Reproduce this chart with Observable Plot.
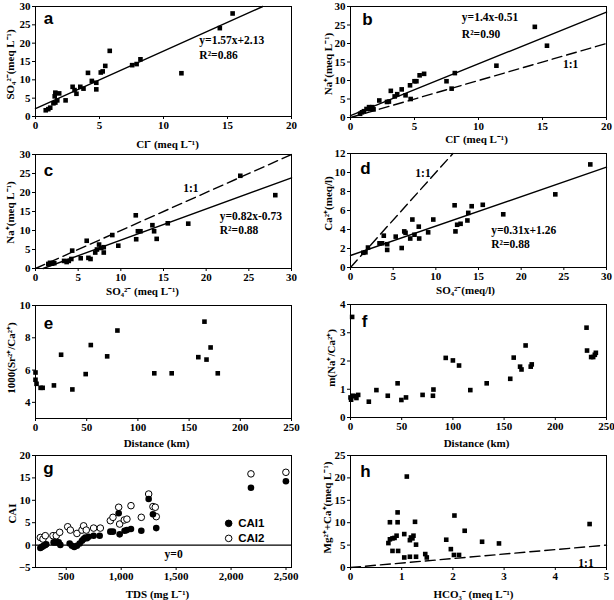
<!DOCTYPE html>
<html><head><meta charset="utf-8">
<script src="https://cdn.jsdelivr.net/npm/d3@7"></script>
<script src="https://cdn.jsdelivr.net/npm/@observablehq/plot@0.6"></script>
<style>
body{margin:0;background:#fff;}
#wrap{position:relative;width:614px;height:600px;overflow:hidden;background:#fff;}
#wrap svg{position:absolute;overflow:visible;}
</style></head><body><div id="wrap"></div>
<script>
// ---------- data ----------
// a: Cl- vs SO4 2-
const panelA = [[0.8,1.7],[1.0,2.0],[1.15,2.4],[1.4,3.6],[1.55,3.8],[1.5,5.5],[1.55,6.5],[1.7,4.4],[1.85,6.3],[2.35,4.4],[2.9,8.1],[3.05,7.2],[3.2,6.2],[3.5,8.1],[3.75,7.6],[4.1,11.9],[4.4,9.7],[4.75,9.2],[4.75,7.4],[5.1,12.0],[5.25,12.3],[5.45,13.8],[5.8,17.9],[7.55,14.0],[7.9,14.3],[8.2,15.6],[11.4,11.8],[14.4,24.1],[15.4,28.1]];
// b: Cl- vs Na+
const panelB = [[0.75,1.0],[0.9,1.4],[1.05,1.7],[1.25,2.3],[1.45,2.8],[1.55,2.3],[1.7,2.8],[1.8,2.2],[2.25,4.6],[2.85,4.2],[3.0,4.3],[3.15,7.2],[3.45,5.7],[3.65,6.3],[4.0,7.6],[4.3,6.0],[4.7,5.0],[4.65,8.7],[5.0,9.8],[5.15,9.8],[5.4,11.4],[5.75,11.8],[7.5,9.8],[7.9,7.8],[8.15,12.0],[11.4,14.0],[14.4,24.5],[15.35,19.4]];
// c: SO4 2- vs Na+
const panelC = [[1.5,1.2],[1.7,1.5],[1.95,1.3],[2.2,1.4],[3.35,2.0],[3.65,1.7],[3.9,2.0],[4.2,2.5],[4.3,4.7],[5.3,2.7],[6.0,7.3],[6.2,2.8],[6.45,2.5],[7.0,4.2],[7.2,5.0],[7.45,6.3],[7.7,5.4],[8.0,5.6],[8.0,4.2],[9.0,8.8],[9.7,6.0],[11.75,14.0],[11.8,7.7],[12.0,9.8],[12.3,9.8],[13.7,11.4],[13.9,9.8],[14.2,7.8],[15.5,11.9],[17.9,11.8],[24.0,24.4],[28.1,19.3]];
// d: SO4 2- vs Ca2+
const panelD = [[1.5,1.55],[1.75,1.6],[2.05,2.1],[3.4,2.55],[3.7,2.55],[3.9,3.35],[4.3,2.45],[4.3,1.85],[5.3,3.25],[6.0,2.05],[6.3,3.8],[6.45,3.65],[7.0,3.05],[7.25,5.05],[7.5,3.45],[8.0,4.3],[8.05,3.05],[9.1,3.7],[9.7,5.05],[12.2,6.55],[12.3,3.8],[12.5,4.5],[12.9,4.6],[13.7,4.95],[13.8,5.75],[14.2,6.45],[15.5,6.6],[17.9,5.6],[24.0,7.7],[28.1,10.85]];
// e: distance vs 1000(Sr/Ca)
const panelE = [[0,5.85],[0,5.4],[1,5.15],[5,4.9],[7,4.9],[18,5.05],[25,6.95],[36,4.8],[49,5.75],[54,7.55],[70,6.85],[80,8.45],[116,5.8],[133,5.8],[159,6.8],[165,9.0],[167,6.65],[171,7.4],[178,5.8]];
// f: distance vs m(Na/Ca)
const panelF = [[1.6,3.56],[0,0.71],[0.6,0.63],[2.6,0.77],[4.9,0.75],[5.8,0.69],[7.5,0.8],[17.9,0.56],[25.3,0.97],[36.4,0.77],[46,1.21],[49.7,0.62],[54.2,0.71],[70.4,0.8],[80.5,0.77],[81,0.99],[93,2.11],[100,2.02],[106,1.84],[117,0.97],[133,1.21],[156,1.37],[159.4,2.12],[165.6,1.8],[167,1.7],[171,2.55],[176,1.8],[177,1.88],[230.5,3.18],[231,2.37],[235,2.14],[237,2.14],[238.6,2.22],[239.6,2.29]];
// g: TDS vs CAI1 / CAI2
const gCAI1 = [[264,-0.65],[279,-0.4],[294,-0.15],[309,0],[318,0.2],[385,0.6],[409,0.6],[431,0.6],[446,0.05],[531,0.35],[552,-0.15],[573,-0.4],[597,-0.15],[622,0.35],[643,0.95],[658,1.35],[673,1.7],[688,1.55],[704,1.85],[749,2.1],[804,2.1],[901,3.0],[925,3.0],[977,7.1],[986,2.4],[1031,3.2],[1052,3.35],[1089,3.6],[1183,3.2],[1250,10.3],[1289,6.9],[1319,3.8],[2181,12.8],[2499,14.25]];
const gCAI2 = [[264,1.7],[288,1.35],[309,2.1],[379,2.1],[409,2.1],[440,2.85],[513,4.1],[537,3.35],[597,2.6],[643,3.35],[658,4.3],[682,3.35],[749,3.8],[810,3.8],[901,5.45],[925,6.2],[977,8.45],[986,4.7],[1028,5.6],[1052,5.8],[1089,8.8],[1183,6.2],[1250,11.4],[1289,8.6],[1310,8.45],[1319,6.35],[2181,15.9],[2499,16.25]];
const gLegend = [["CAI1", 4.85, "black"], ["CAI2", 1.5, "white"]];
// h: HCO3- vs Mg2+ + Ca
const panelH = [[0.74,5.45],[0.77,6.3],[0.82,6.5],[0.86,6.6],[0.82,3.7],[0.93,3.7],[0.9,7.1],[0.77,10.1],[0.92,10.1],[0.92,12.3],[1.1,20.3],[1.05,7.46],[1.05,2.24],[1.16,2.4],[1.16,6.1],[1.18,6.7],[1.21,6.5],[1.23,7.1],[1.26,10.2],[1.28,5.1],[1.28,2.4],[1.46,3.0],[1.49,2.24],[1.87,6.2],[1.96,4.1],[2.02,2.8],[2.03,11.6],[2.12,2.8],[2.23,8.2],[2.57,5.75],[2.9,5.37],[4.67,9.7]];

// regression fits / reference lines
const fitA = {slope: 1.57, intercept: 2.13, text: "y=1.57x+2.13", r2: "R²=0.86"};
const fitB = {slope: 1.4, intercept: 0.5, text: "y=1.4x-0.51", r2: "R²=0.90"};
const fitC = {slope: 0.82, intercept: -0.73, text: "y=0.82x-0.73", r2: "R²=0.88"};
const fitD = {slope: 0.31, intercept: 1.26, text: "y=0.31x+1.26", r2: "R²=0.88"};
const oneToOne = {slope: 1, intercept: 0};

// ticks
const ticksCl = [0,5,10,15,20];
const ticks0to30 = [0,5,10,15,20,25,30];
const ticksCa = [0,2,4,6,8,10,12];
const ticksDist = [0,50,100,150,200,250];
const ticksSrCa = [4,6,8,10];
const ticksNaCa = [0,1,2,3,4];
const ticksTDS = [500,1000,1500,2000,2500];
const ticksCAI = [-5,0,5,10,15,20];
const ticksHCO3 = [0,1,2,3,4,5];
const ticksMgCa = [0,5,10,15,20,25];

// ---------- helpers ----------
const SERIF = "'Liberation Serif','Times New Roman',serif";
const SANS = "'Liberation Sans',Arial,sans-serif";

function seg(fit, xd, yd) {
  let x0 = xd[0], x1 = xd[1];
  const f = x => fit.slope * x + fit.intercept;
  const inv = y => (y - fit.intercept) / fit.slope;
  if (f(x0) < yd[0]) x0 = inv(yd[0]);
  if (f(x1) > yd[1]) x1 = inv(yd[1]);
  return [[x0, f(x0)], [x1, f(x1)]];
}

const wrap = document.getElementById("wrap");

function panel(o) {
  const marks = [
    Plot.axisX(o.xTicks, {tickSize: 3, tickPadding: 2, label: null, fontSize: 11, fontWeight: "bold"}),
    Plot.axisY(o.yTicks, {tickSize: 3, tickPadding: 2, label: null, fontSize: 11, fontWeight: "bold"}),
    ...o.marks,
    Plot.frame({stroke: "black", strokeWidth: 1}),
    Plot.text([o.xLabel], {text: d => d, frameAnchor: "bottom", textAnchor: "middle", lineAnchor: "middle", dx: o.xl[0], dy: o.xl[1], fontSize: 11, fontWeight: "bold", fontFamily: SERIF}),
    Plot.text([o.yLabel], {text: d => d, frameAnchor: "left", textAnchor: "middle", lineAnchor: "middle", rotate: -90, dx: o.yl[0], dy: o.yl[1], fontSize: 11, fontWeight: "bold", fontFamily: SERIF}),
    Plot.text([o.letter], {text: d => d, frameAnchor: "top-left", textAnchor: "middle", lineAnchor: "top", dx: o.lt[0], dy: o.lt[1], fontSize: 17, fontWeight: "bold", fontFamily: SANS})
  ];
  const svg = Plot.plot({
    width: o.width, height: 150,
    marginLeft: o.m[0], marginRight: o.m[1], marginTop: o.m[2], marginBottom: o.m[3],
    style: {fontFamily: SERIF, fontSize: "11px", fontWeight: "bold", background: "transparent", color: "black", overflow: "visible"},
    x: {domain: o.xDomain},
    y: {domain: o.yDomain},
    marks
  });
  svg.style.left = o.left + "px";
  svg.style.top = o.top + "px";
  wrap.appendChild(svg);
}

const sq = (data) => Plot.dot(data, {x: d => d[0], y: d => d[1], symbol: "square", r: 2.6, fill: "black", stroke: "none"});
const solid = (pts) => Plot.line(pts, {x: d => d[0], y: d => d[1], stroke: "black", strokeWidth: 1.4});
const dashed = (pts) => Plot.line(pts, {x: d => d[0], y: d => d[1], stroke: "black", strokeWidth: 1.4, strokeDasharray: "10,5"});
const note = (txt, x, y, anchor = "start") => Plot.text([txt], {text: d => d, x: () => x, y: () => y, textAnchor: anchor, fontSize: 11.5, fontWeight: "bold", fontFamily: SERIF});

const L = {left: 0, width: 300, ml: 35, mr: 9};
const R = {left: 305, width: 309, ml: 45, mr: 8};

// a
panel({left: L.left, top: 0, width: L.width, m: [L.ml, L.mr, 6, 34],
  xDomain: [0, 20], yDomain: [0, 30], xTicks: ticksCl, yTicks: ticks0to30,
  xLabel: "Cl⁻ (meq L⁻¹)", yLabel: "SO₄²⁻(meq L⁻¹)", xl: [4, 28], yl: [-25, 3], letter: "a", lt: [13, 5],
  marks: [solid(seg(fitA, [0, 20], [0, 30])), sq(panelA), note(fitA.text, 12.8, 20.7), note(fitA.r2, 12.8, 16.6)]});
// b
panel({left: R.left, top: 0, width: R.width, m: [R.ml, R.mr, 6, 33],
  xDomain: [0, 20], yDomain: [0, 30], xTicks: ticksCl, yTicks: ticks0to30,
  xLabel: "Cl⁻ (meq L⁻¹)", yLabel: "Na⁺(meq L⁻¹)", xl: [-2, 22], yl: [-22, 2], letter: "b", lt: [17, 6],
  marks: [solid(seg(fitB, [0, 20], [0, 30])), dashed(seg(oneToOne, [0, 20], [0, 30])), sq(panelB),
    note(fitB.text, 8.7, 27), note(fitB.r2, 8.7, 22.6), note("1:1", 16.6, 14.5)]});
// c
panel({left: L.left, top: 150, width: L.width, m: [L.ml, L.mr, 4, 32],
  xDomain: [0, 30], yDomain: [0, 30], xTicks: ticks0to30, yTicks: ticks0to30,
  xLabel: "SO₄²⁻ (meq L⁻¹)", yLabel: "Na⁺(meq L⁻¹)", xl: [-21, 23], yl: [-25, 1], letter: "c", lt: [13, 9],
  marks: [solid(seg(fitC, [0, 30], [0, 30])), dashed(seg(oneToOne, [0, 30], [0, 30])), sq(panelC),
    note(fitC.text, 21.6, 13.8), note(fitC.r2, 21.6, 10.0), note("1:1", 17.3, 21.2)]});
// d
panel({left: R.left, top: 150, width: R.width, m: [R.ml, R.mr, 3, 33],
  xDomain: [0, 30], yDomain: [0, 12], xTicks: ticks0to30, yTicks: ticksCa,
  xLabel: "SO₄²⁻(meq/l)", yLabel: "Ca²⁺(meq/l)", xl: [-13, 23], yl: [-22, -7], letter: "d", lt: [15, 8],
  marks: [solid(seg(fitD, [0, 30], [0, 12])), dashed(seg(oneToOne, [0, 30], [0, 12])), sq(panelD),
    note(fitD.text, 16.5, 3.9), note(fitD.r2, 16.5, 2.4), note("1:1", 7.6, 9.9)]});
// e
panel({left: L.left, top: 300, width: L.width, m: [L.ml, L.mr, 5, 32],
  xDomain: [0, 250], yDomain: [3, 10], xTicks: ticksDist, yTicks: ticksSrCa,
  xLabel: "Distance (km)", yLabel: "1000(Sr²⁺/Ca²⁺)", xl: [-7, 25], yl: [-24, -4], letter: "e", lt: [13, 11],
  marks: [sq(panelE)]});
// f
panel({left: R.left, top: 300, width: R.width, m: [R.ml, R.mr, 4, 33],
  xDomain: [0, 250], yDomain: [0, 4], xTicks: ticksDist, yTicks: ticksNaCa,
  xLabel: "Distance (km)", yLabel: "m(Na⁺/Ca²⁺)", xl: [-2, 26], yl: [-19, -3], letter: "f", lt: [14, 10],
  marks: [sq(panelF)]});
// g
panel({left: L.left, top: 450, width: L.width, m: [L.ml, L.mr, 5, 33],
  xDomain: [220, 2550], yDomain: [-5, 20], xTicks: ticksTDS, yTicks: ticksCAI,
  xLabel: "TDS (mg L⁻¹)", yLabel: "CAI", xl: [-6, 27], yl: [-23, 2], letter: "g", lt: [13, 6],
  marks: [
    Plot.ruleY([0], {stroke: "black", strokeWidth: 1.4}),
    Plot.dot(gCAI2, {x: d => d[0], y: d => d[1], r: 3.3, fill: "white", stroke: "black", strokeWidth: 1}),
    Plot.dot(gCAI1, {x: d => d[0], y: d => d[1], r: 3.3, fill: "black", stroke: "none"}),
    Plot.dot(gLegend, {x: () => 1978, y: d => d[1], r: 3.3, fill: d => d[2], stroke: "black", strokeWidth: 1}),
    Plot.text(gLegend, {x: () => 2065, y: d => d[1], text: d => d[0], textAnchor: "start", fontSize: 11.5, fontWeight: "bold", fontFamily: SANS}),
    note("y=0", 1477, -2.0, "middle")
  ]});
// h
panel({left: R.left, top: 450, width: R.width, m: [R.ml, R.mr, 5, 33],
  xDomain: [0, 5], yDomain: [0, 25], xTicks: ticksHCO3, yTicks: ticksMgCa,
  xLabel: "HCO₃⁻ (meq L⁻¹)", yLabel: "Mg²⁺+Ca⁺(meq L⁻¹)", xl: [-5, 27], yl: [-23, -4], letter: "h", lt: [15, 9],
  marks: [dashed(seg(oneToOne, [0, 5], [0, 25])), sq(panelH), note("1:1", 4.45, 0.9)]});
</script>
</body></html>
